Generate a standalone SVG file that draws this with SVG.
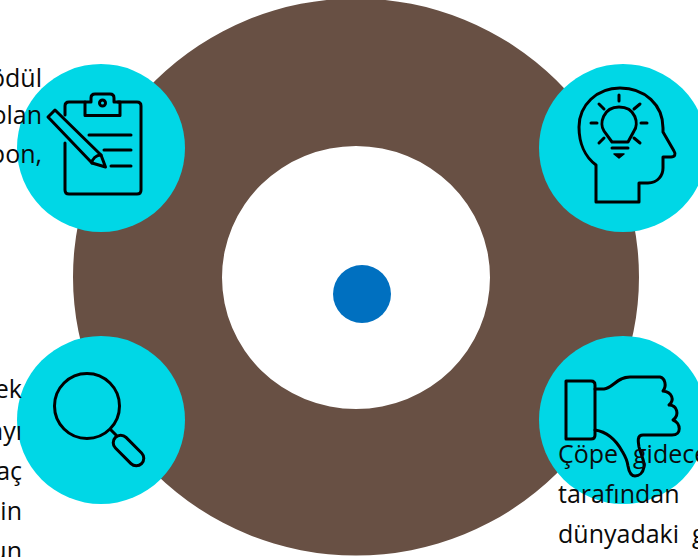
<svg xmlns="http://www.w3.org/2000/svg" width="698" height="557" viewBox="0 0 698 557">
<style>
.c{fill:#00d7e6}
.i{fill:none;stroke:#000;stroke-width:3;stroke-linejoin:round;stroke-linecap:round}
.t{font-family:"Open Sans","Noto Sans",sans-serif;font-size:25px;fill:#0a0a0a}
.e{text-anchor:end}
</style>
<g id="ring">
<path fill="#685044" fill-rule="evenodd" d="M73 277a283 278.500 0 1 0 566 0a283 278.500 0 1 0-566 0zM222 277.500a134 131.500 0 1 1 268 0a134 131.500 0 1 1-268 0z"/>
</g>
<g id="center"><circle cx="362" cy="294" r="29" fill="#0070c0"/></g>
<g id="connectors"></g>
<g id="node-clipboard">
<circle class="c" cx="101" cy="148" r="84"/>
<path class="i" d="M65 143V190q0 4 4 4H137q4 0 4-4V106q0-4-4-4H118M85 102H69q-4 0-4 4V115"/>
<path class="i" d="M85 115.500V102H91V98q0-4 4-4H110q4 0 4 4V102H120V115.500Z"/>
<circle class="i" cx="102.500" cy="103" r="3"/>
<path class="i" d="M89 135H131M104 150H131M111 166H131"/>
<path class="i" d="M48 117L55 110L101 155L105.500 167L92 163Z"/>
<path class="i" d="M92 163C92 159 96 155 101 155"/>
</g>
<g id="node-head">
<circle class="c" cx="623" cy="148" r="84"/>
<path class="i" d="M596 165V202H639V183H648C658 183 663 175 663 168V157H671C675 157 676 154 674 151L663 132V128C663 105 645 88 620 88C597 88 579 105 579 127C579 143 585 157 596 165Z"/>
<path class="i" d="M612 142H628L634 131C639 124 636 107 619 107C603 107 599 124 604 131Z"/>
<path class="i" d="M619 95V101M599 104L604 109M640 104L634 109M591 123H597M641 123H647M599 143L604 138M640 143L634 138M612 148H628"/>
<path d="M614 154H624L619 158Z" stroke="#000" stroke-width="1.500" stroke-linejoin="round"/>
</g>
<g id="node-magnifier">
<circle class="c" cx="101" cy="420" r="84"/>
<circle class="i" cx="87" cy="406" r="32.500"/>
<path class="i" d="M111 430L116 435"/>
<rect class="i" x="110" y="443" width="37" height="15" rx="7.500" transform="rotate(45 128.500 450.500)"/>
</g>
<g id="node-thumb">
<circle class="c" cx="623" cy="420" r="84"/>
<path class="i" d="M566 381H591Q595 381 595 385V435Q595 439 591 439H566Z"/>
<path class="i" d="M595 389H604C613 388 617 377 630 377H660C665 378 667 386 663 391C672 392 675 400 669 405C677 405 680 415 673 420C681 423 682 435 672 435H643C637 435 638 441 639 447C641 455 645 462 644 467C643 473 639 476 635 476C631 476 629 472 628 466C627 459 625 456 622 451C617 442 608 432 595 430"/>
</g>
<g id="texts">
<text class="t e" x="42" y="87">ödül</text>
<text class="t e" x="42" y="124">olan</text>
<text class="t e" x="42" y="163">pon,</text>
<text class="t e" x="22" y="398">ek</text>
<text class="t e" x="22" y="440">ayı</text>
<text class="t e" x="22" y="480">aç</text>
<text class="t e" x="22" y="520">in</text>
<text class="t e" x="22" y="560">un</text>
<text class="t" x="558" y="463">Çöpe<tspan x="633">gidecek</tspan></text>
<text class="t" x="558" y="503">tarafından</text>
<text class="t" x="558" y="543">dünyadaki<tspan x="692">g</tspan></text>
</g>
</svg>
